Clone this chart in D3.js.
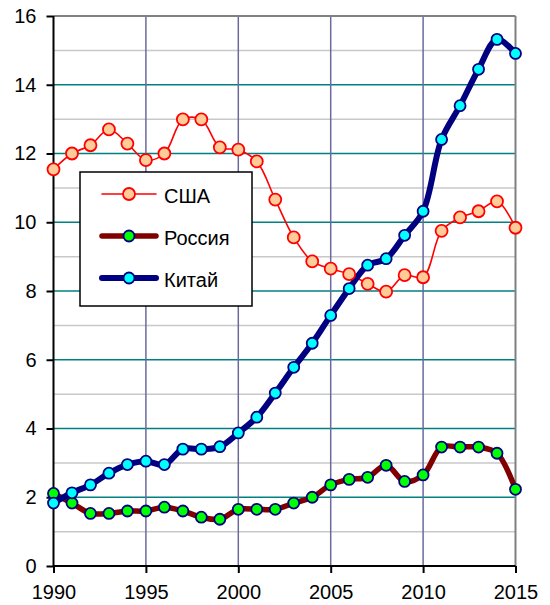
<!DOCTYPE html>
<html><head><meta charset="utf-8">
<script src="https://cdn.jsdelivr.net/npm/d3@7"></script>
<style>body{margin:0;background:#fff}svg{display:block}text{font-family:"Liberation Sans",Arial,sans-serif}</style>
</head><body>
<script>
const years = d3.range(1990, 2016);
const usa = [11.54,12.0,12.24,12.70,12.29,11.81,12.0,12.99,12.99,12.18,12.11,11.77,10.66,9.56,8.86,8.65,8.49,8.21,7.98,8.46,8.40,9.75,10.14,10.32,10.61,9.84];
const russia = [2.11,1.83,1.53,1.53,1.60,1.60,1.71,1.60,1.42,1.36,1.65,1.65,1.65,1.83,2.00,2.36,2.52,2.58,2.93,2.46,2.65,3.46,3.46,3.46,3.28,2.23];
const china = [1.83,2.13,2.36,2.70,2.95,3.05,2.95,3.40,3.40,3.47,3.87,4.33,5.03,5.78,6.48,7.29,8.07,8.75,8.94,9.62,10.32,12.41,13.39,14.45,15.32,14.91];
const yTicks = [0,2,4,6,8,10,12,14,16];
const yMinor = [1,3,5,7,9,11,13,15];
const xTicks = [1990,1995,2000,2005,2010,2015];
const seriesNames = ["США","Россия","Китай"];

const W=550,H=605;
const svg = d3.select("body").append("svg").attr("width",W).attr("height",H);
const x = d3.scaleLinear().domain([1990,2015]).range([53.5,515.5]);
const y = d3.scaleLinear().domain([0,16]).range([566,16]);

svg.append("g").selectAll("line").data(yMinor).join("line")
  .attr("x1",x(1990)).attr("x2",x(2015)).attr("y1",d=>y(d)).attr("y2",d=>y(d))
  .attr("stroke","#c8c8c8").attr("stroke-width",1.5);
svg.append("g").selectAll("line").data(yTicks.filter(d=>d>0&&d<16)).join("line")
  .attr("x1",x(1990)).attr("x2",x(2015)).attr("y1",d=>y(d)).attr("y2",d=>y(d))
  .attr("stroke","#008080").attr("stroke-width",1.5);
svg.append("g").selectAll("line").data(xTicks.filter(d=>d>1990&&d<2015)).join("line")
  .attr("x1",d=>x(d)).attr("x2",d=>x(d)).attr("y1",y(0)).attr("y2",y(16))
  .attr("stroke","#6a6a9c").attr("stroke-width",1.5);
svg.append("line").attr("x1",x(1990)).attr("x2",x(2015)).attr("y1",y(16)).attr("y2",y(16)).attr("stroke","#808080").attr("stroke-width",2);
svg.append("line").attr("x1",x(2015)).attr("x2",x(2015)).attr("y1",y(16)).attr("y2",y(0)).attr("stroke","#808080").attr("stroke-width",2);

const yAxis = d3.axisLeft(y).tickValues(yTicks).tickSize(7).tickPadding(10).tickFormat(d3.format("d"));
const gy = svg.append("g").attr("transform",`translate(${x(1990)},0)`).call(yAxis);
const xAxis = d3.axisBottom(x).tickValues(xTicks).tickSize(7).tickPadding(12).tickFormat(d3.format("d"));
const gx = svg.append("g").attr("transform",`translate(0,${y(0)})`).call(xAxis);
[gy,gx].forEach(g=>{
  g.select(".domain").attr("stroke","#000").attr("stroke-width",2);
  g.selectAll(".tick line").attr("stroke","#000").attr("stroke-width",2);
  g.selectAll("text").attr("font-size",20).attr("fill","#000").attr("font-family","Liberation Sans, Arial, sans-serif");
});
gy.select(".domain").attr("d",`M0,${y(0)}V${y(16)}`);
gx.select(".domain").attr("d",`M${x(1990)},0H${x(2015)}`);

const styles = [
  {data:usa, line:"#ff0000", lw:1.6, fill:"#ffcc99", mstroke:"#ff0000", r:6},
  {data:russia, line:"#800000", lw:5.5, fill:"#00ff00", mstroke:"#000080", r:5.5},
  {data:china, line:"#000080", lw:6, fill:"#00ffff", mstroke:"#000080", r:5.5}
];
const line = d3.line().x((d,i)=>x(years[i])).y(d=>y(d)).curve(d3.curveCatmullRom.alpha(0.5));

[0,1,2].forEach(k=>{
  const s = styles[k];
  svg.append("path").datum(s.data).attr("d",line).attr("fill","none")
    .attr("stroke",s.line).attr("stroke-width",s.lw).attr("stroke-linejoin","round").attr("stroke-linecap","round");
});
[0,1,2].forEach(k=>{
  const s = styles[k];
  svg.append("g").selectAll("circle").data(s.data).join("circle")
    .attr("cx",(d,i)=>x(years[i])).attr("cy",d=>y(d)).attr("r",s.r)
    .attr("fill",s.fill).attr("stroke",s.mstroke).attr("stroke-width",1.8);
});

const lg = svg.append("g");
lg.append("rect").attr("x",80).attr("y",172).attr("width",172).attr("height",134)
  .attr("fill","#fff").attr("stroke","#000").attr("stroke-width",1.5);
const ly = [194,236,278];
seriesNames.forEach((name,k)=>{
  const s = styles[k];
  lg.append("line").attr("x1",102).attr("x2",156).attr("y1",ly[k]).attr("y2",ly[k])
    .attr("stroke",s.line).attr("stroke-width",s.lw).attr("stroke-linecap","round");
  lg.append("circle").attr("cx",129).attr("cy",ly[k]).attr("r",s.r)
    .attr("fill",s.fill).attr("stroke",s.mstroke).attr("stroke-width",1.8);
  lg.append("text").attr("x",164).attr("y",ly[k]+8.5).attr("font-size",20).attr("fill","#000").text(name);
});
</script>
</body></html>
